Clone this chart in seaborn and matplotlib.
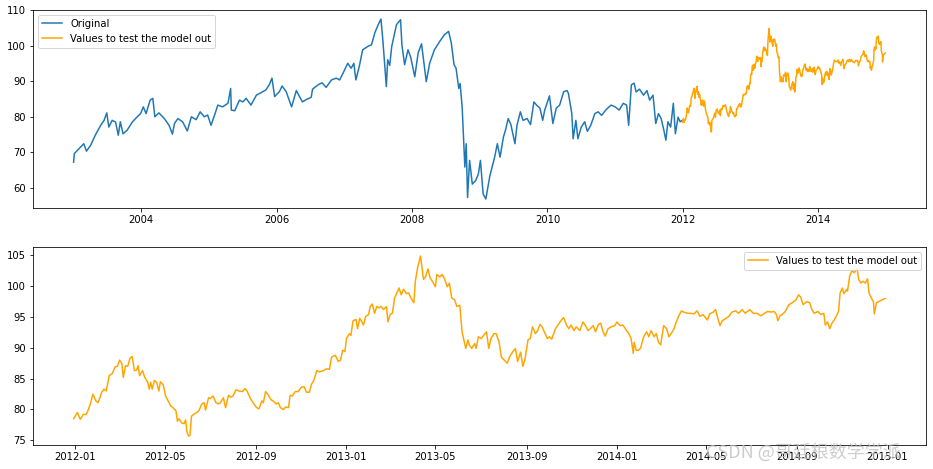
import pandas as pd
import matplotlib.pyplot as plt
import numpy as np
import seaborn as sns

# data
# training part ("Original"), time as decimal year
orig_year = [2003.00, 2003.01, 2003.08, 2003.15, 2003.19, 2003.25, 2003.32, 2003.40, 2003.45, 2003.49,
             2003.52, 2003.57, 2003.62, 2003.66, 2003.69, 2003.73, 2003.79, 2003.87, 2003.94, 2003.99,
             2004.03, 2004.07, 2004.13, 2004.17, 2004.20, 2004.26, 2004.34, 2004.41, 2004.46, 2004.49,
             2004.54, 2004.61, 2004.68, 2004.74, 2004.81, 2004.87, 2004.93, 2004.98, 2005.03, 2005.09,
             2005.13, 2005.20, 2005.28, 2005.32, 2005.33, 2005.38, 2005.45, 2005.50, 2005.55, 2005.62,
             2005.70, 2005.77, 2005.84, 2005.89, 2005.93, 2005.97, 2006.04, 2006.08, 2006.14, 2006.22,
             2006.29, 2006.33, 2006.38, 2006.44, 2006.51, 2006.53, 2006.61, 2006.67, 2006.73, 2006.81,
             2006.88, 2006.93, 2006.98, 2007.05, 2007.10, 2007.14, 2007.17, 2007.22, 2007.27, 2007.35,
             2007.40, 2007.45, 2007.50, 2007.54, 2007.57, 2007.62, 2007.64, 2007.67, 2007.70, 2007.77,
             2007.83, 2007.85, 2007.89, 2007.94, 2007.98, 2008.04, 2008.09, 2008.14, 2008.21, 2008.26,
             2008.33, 2008.41, 2008.48, 2008.54, 2008.58, 2008.62, 2008.65, 2008.69, 2008.71, 2008.74,
             2008.78, 2008.80, 2008.82, 2008.85, 2008.89, 2008.94, 2008.98, 2009.01, 2009.05, 2009.09,
             2009.15, 2009.22, 2009.26, 2009.30, 2009.35, 2009.38, 2009.42, 2009.46, 2009.52, 2009.55,
             2009.60, 2009.64, 2009.70, 2009.75, 2009.80, 2009.84, 2009.89, 2009.93, 2009.96, 2010.03,
             2010.08, 2010.13, 2010.18, 2010.24, 2010.29, 2010.31, 2010.36, 2010.38, 2010.42, 2010.45,
             2010.50, 2010.55, 2010.59, 2010.64, 2010.70, 2010.75, 2010.80, 2010.87, 2010.94, 2011.00,
             2011.06, 2011.12, 2011.17, 2011.20, 2011.24, 2011.28, 2011.31, 2011.36, 2011.42, 2011.47,
             2011.51, 2011.56, 2011.60, 2011.64, 2011.68, 2011.72, 2011.75, 2011.78, 2011.82, 2011.86,
             2011.89, 2011.93, 2011.96, 2011.99]
orig_value = [67.2, 69.6, 71.0, 72.4, 70.3, 71.9, 74.8, 77.6, 79.0, 81.1,
              77.1, 79.0, 78.5, 74.8, 78.6, 75.2, 76.2, 78.6, 80.0, 80.9,
              82.8, 80.9, 84.7, 85.2, 80.0, 81.1, 79.5, 77.6, 75.1, 78.1,
              79.5, 78.6, 76.0, 80.0, 79.2, 81.4, 80.0, 80.5, 77.6, 80.9,
              83.3, 82.8, 83.8, 88.0, 81.9, 81.7, 84.7, 84.2, 85.2, 83.3,
              86.1, 86.8, 87.6, 89.0, 90.9, 85.7, 87.1, 88.7, 87.1, 82.8,
              87.4, 86.0, 84.2, 84.9, 85.5, 87.8, 89.0, 89.6, 88.3, 90.4,
              90.9, 90.4, 92.3, 95.1, 93.7, 95.1, 90.4, 94.2, 98.9, 99.9,
              100.3, 103.7, 106.0, 107.6, 101.3, 88.5, 96.1, 94.5, 99.9, 106.0,
              107.4, 100.3, 94.7, 98.9, 96.8, 91.3, 98.0, 100.6, 89.9, 95.1,
              98.9, 101.3, 103.2, 104.1, 100.8, 94.7, 93.7, 88.0, 89.4, 82.8,
              65.8, 72.4, 57.2, 67.7, 61.0, 62.0, 63.9, 67.7, 58.2, 56.8,
              63.4, 68.6, 72.4, 68.6, 74.3, 76.2, 79.5, 77.8, 72.4, 77.6,
              81.4, 79.0, 79.5, 77.8, 84.2, 83.3, 82.4, 79.0, 81.9, 85.9,
              78.1, 82.4, 83.3, 87.1, 87.4, 86.6, 80.9, 73.8, 79.0, 73.8,
              77.1, 78.6, 75.9, 77.6, 80.9, 81.4, 80.4, 82.1, 83.3, 82.8,
              81.9, 83.8, 83.3, 77.6, 89.0, 89.5, 87.0, 87.8, 86.1, 87.4,
              84.7, 86.1, 78.1, 80.9, 79.5, 76.2, 73.4, 78.6, 77.1, 83.8,
              75.2, 79.9, 78.6, 79.0]

# test part, days after 2012-01-01
test_day = [-2, 3, 7, 11, 15, 18, 21, 24, 28, 31, 36, 39, 42, 46, 50, 54, 57, 60, 63, 65,
            68, 71, 74, 77, 80, 83, 85, 87, 91, 94, 98, 100, 102, 104, 107, 110, 113, 115, 119, 122,
            126, 129, 132, 136, 138, 140, 144, 147, 149, 151, 153, 155, 157, 160, 164, 167, 171, 174, 176, 180,
            183, 186, 190, 193, 196, 200, 203, 207, 210, 213, 217, 221, 226, 229, 232, 236, 240, 245, 248, 252,
            254, 257, 261, 264, 267, 271, 274, 277, 281, 284, 288, 290, 293, 297, 301, 305, 309, 312, 316, 319,
            322, 326, 330, 335, 339, 343, 346, 351, 355, 358, 361, 364, 366, 370, 372, 375, 379, 381, 384, 387,
            389, 392, 396, 398, 401, 404, 407, 410, 413, 416, 420, 422, 425, 428, 431, 434, 437, 440, 443, 447,
            450, 453, 457, 459, 462, 466, 468, 470, 473, 476, 479, 482, 486, 488, 492, 495, 498, 502, 505, 508,
            512, 515, 519, 522, 524, 527, 530, 532, 535, 539, 541, 544, 548, 551, 555, 558, 561, 565, 568, 572,
            575, 579, 583, 586, 590, 594, 597, 601, 604, 607, 611, 614, 617, 621, 624, 627, 630, 633, 637, 640,
            643, 648, 652, 656, 659, 663, 666, 669, 673, 676, 681, 685, 688, 692, 695, 699, 702, 706, 709, 712,
            715, 719, 723, 728, 731, 735, 739, 744, 747, 750, 753, 754, 757, 760, 763, 767, 771, 774, 777, 781,
            784, 787, 790, 794, 798, 801, 804, 808, 811, 814, 818, 821, 826, 830, 835, 839, 843, 847, 853, 856,
            861, 864, 867, 870, 873, 877, 882, 886, 891, 895, 900, 904, 910, 915, 920, 925, 930, 934, 939, 943,
            946, 948, 951, 954, 958, 963, 967, 972, 976, 979, 982, 987, 991, 994, 997, 1002, 1006, 1010, 1012, 1015,
            1018, 1021, 1024, 1028, 1030, 1032, 1035, 1037, 1041, 1042, 1045, 1048, 1051, 1055, 1057, 1060, 1063, 1066, 1069, 1071,
            1074, 1077, 1078, 1081, 1084, 1089, 1093]
test_value = [78.5, 79.5, 78.4, 79.2, 79.2, 80.0, 81.1, 82.5, 81.4, 81.1, 82.8, 83.3, 83.0, 85.5, 85.8, 86.9, 87.0, 88.0, 87.5, 85.2,
              87.1, 87.0, 88.3, 88.6, 86.3, 86.4, 87.1, 85.5, 86.3, 85.2, 84.4, 83.3, 84.4, 83.3, 84.7, 84.4, 83.0, 84.5, 84.0, 82.2,
              81.3, 80.6, 80.3, 79.8, 78.1, 78.5, 77.8, 77.7, 78.3, 76.3, 75.7, 75.8, 78.9, 79.2, 79.5, 79.8, 80.9, 81.1, 79.9, 81.9,
              81.8, 82.2, 81.1, 80.9, 81.1, 81.9, 80.3, 82.3, 82.0, 82.2, 83.2, 83.0, 82.9, 83.4, 83.0, 81.9, 81.1, 80.3, 80.1, 81.4,
              81.1, 82.9, 82.3, 81.6, 81.4, 80.9, 81.1, 80.3, 80.0, 80.4, 80.3, 82.3, 82.2, 82.9, 82.9, 83.6, 83.7, 82.8, 82.8, 84.1,
              84.7, 86.3, 86.1, 86.3, 86.6, 86.5, 88.5, 88.8, 87.8, 88.0, 89.6, 89.4, 91.5, 92.3, 92.0, 94.4, 94.6, 93.1, 94.8, 94.2,
              93.7, 95.1, 95.4, 96.7, 97.1, 95.6, 96.7, 96.5, 96.7, 96.2, 96.7, 94.2, 95.4, 95.6, 98.1, 98.9, 99.7, 98.6, 99.5, 98.8,
              98.9, 98.1, 97.3, 100.8, 103.0, 104.9, 103.0, 101.1, 101.6, 102.8, 101.3, 100.8, 99.9, 101.9, 101.5, 101.9, 101.3, 99.9, 100.5, 98.1,
              97.8, 96.7, 96.9, 92.6, 91.5, 89.9, 91.3, 90.4, 89.9, 90.7, 89.9, 91.8, 91.5, 92.0, 92.6, 89.9, 91.5, 92.3, 92.3, 90.9,
              88.5, 88.0, 87.5, 88.5, 89.3, 89.9, 87.8, 89.3, 87.0, 88.2, 91.3, 91.5, 93.4, 92.3, 92.8, 93.8, 93.4, 92.6, 91.5, 91.8,
              91.4, 93.1, 93.8, 94.5, 94.9, 93.7, 93.1, 93.7, 92.8, 93.4, 92.8, 94.2, 93.7, 92.8, 93.1, 93.6, 92.6, 93.8, 94.0, 92.7,
              91.9, 93.1, 93.4, 93.6, 94.2, 93.6, 93.7, 92.8, 92.3, 91.5, 89.1, 90.9, 89.6, 89.6, 90.0, 91.8, 92.6, 91.8, 92.8, 91.8,
              92.3, 90.9, 90.5, 93.6, 93.1, 91.8, 92.3, 93.1, 94.2, 95.1, 96.0, 95.8, 95.6, 95.6, 95.5, 96.0, 95.1, 95.4, 94.5, 95.5,
              95.8, 96.2, 94.8, 93.6, 94.4, 94.7, 95.1, 95.8, 96.0, 95.6, 96.2, 95.6, 96.2, 95.6, 95.6, 95.2, 95.6, 95.9, 95.8, 95.9,
              95.4, 94.4, 95.2, 95.4, 95.9, 97.0, 97.3, 97.7, 98.6, 98.2, 97.0, 97.5, 97.3, 96.2, 95.6, 95.9, 95.4, 95.6, 93.7, 94.2,
              93.1, 94.0, 94.5, 95.4, 96.0, 98.9, 99.7, 98.8, 99.5, 99.2, 101.7, 102.5, 102.2, 102.8, 101.1, 100.5, 100.8, 100.5, 101.2, 98.9,
              98.1, 97.5, 95.5, 97.3, 97.5, 97.8, 98.0]

orig_dates = pd.Timestamp('2003-01-01') + pd.to_timedelta((np.array(orig_year) - 2003) * 365.25, unit='D')
test_dates = pd.Timestamp('2012-01-01') + pd.to_timedelta(test_day, unit='D')

df_orig = pd.DataFrame({'date': orig_dates, 'value': orig_value})
df_test = pd.DataFrame({'date': test_dates, 'value': test_value})

plt.rcParams['font.family'] = ['DejaVu Sans']

fig = plt.figure(figsize=(933 / 72, 469 / 72), dpi=72)
ax1 = fig.add_axes([0.0354, 0.5565, 0.957, 0.4222])
ax2 = fig.add_axes([0.0354, 0.0512, 0.957, 0.4222])

# top: whole series
sns.lineplot(data=df_orig, x='date', y='value', ax=ax1, color='#1f77b4', label='Original')
sns.lineplot(data=df_test, x='date', y='value', ax=ax1, color='orange', label='Values to test the model out')
ax1.legend(loc='upper left')
ax1.set_xlabel('')
ax1.set_ylabel('')

# bottom: test part only
sns.lineplot(data=df_test, x='date', y='value', ax=ax2, color='orange', label='Values to test the model out')
ax2.legend(loc='upper right')
ax2.set_xlabel('')
ax2.set_ylabel('')

# watermark of the source page
fig.text(0.757, 1 - 452 / 469, 'CSDN @哥廷根数学学派', fontsize=18, color='#c0c0c0', alpha=0.8,
         va='center', ha='left', family=['Noto Sans CJK SC', 'DejaVu Sans'])

fig.savefig('out.png', dpi=72)
